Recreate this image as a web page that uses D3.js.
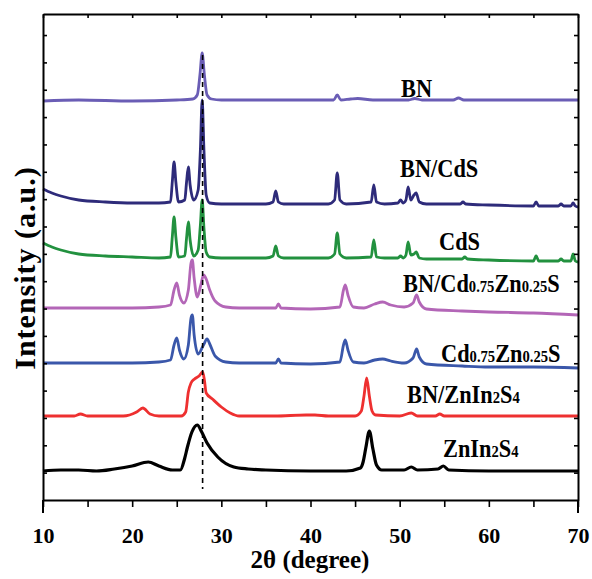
<!DOCTYPE html>
<html><head><meta charset="utf-8">
<script src="https://cdn.jsdelivr.net/npm/d3@7"></script>
<style>body{margin:0;background:#fff}text{font-family:"Liberation Serif","Times New Roman",serif;font-weight:bold}</style>
</head><body><svg id="c" width="592" height="579"></svg>
<script>
// x ticks (2θ, degree)
const xTicks = [10,15,20,25,30,35,40,45,50,55,60,65,70];
const xTickLabels = {10:"10",20:"20",30:"30",40:"40",50:"50",60:"60",70:"70"};
const yTicks = [27.35,54.7,82.05,109.4,136.75,164.1,191.45,218.8,246.15,273.5,300.85,328.2,355.55,382.9,410.25,437.6,464.95];
const refLine = 27.9;

// series values [2θ, intensity (a.u., offset stacked)]
const BN = [[10,399],[14,400],[20,399],[25,400],[26.8,401],[27.3,405],[27.6,425],[27.85,447],[28.1,425],[28.4,405],[28.9,401],[30,400],[35,400],[40,400],[42.6,400],[43,405],[43.4,400],[44.5,401],[45.3,401.5],[47,400],[51,400],[51.7,401.5],[52.5,400],[56,400],[56.6,402],[57.2,400],[60,400],[65,400],[70,400]];
const BN_CdS = [[10,311],[11,307],[12,304],[14,300],[17,298],[20,297],[23,297],[24.3,298],[24.5,318],[24.7,338],[24.9,318],[25.2,298],[25.9,300],[26.1,318],[26.3,333],[26.5,315],[26.9,300],[27.4,310],[27.65,350],[27.85,400],[28.05,350],[28.3,305],[28.7,297],[30,296],[35,296],[35.8,298],[36.1,309],[36.4,298],[37,296],[42,296],[42.7,300],[43.0,327],[43.3,300],[44,296],[46.8,298],[47.1,315],[47.4,298],[48.3,296],[49.8,297],[50.1,300],[50.4,297],[50.7,300],[50.95,313],[51.25,300],[51.6,305],[51.85,307],[52.2,298],[53,296],[56.8,296],[57.1,298],[57.4,296],[60,295],[65,294],[65.3,298],[65.6,294],[67.8,294],[68.1,296],[68.4,294],[69.2,294],[69.45,297],[69.7,294],[70,293]];
const CdS = [[10,257],[11,253],[12,250],[14,246],[17,244],[20,243],[23,242],[24.3,243],[24.5,263],[24.7,283],[24.9,263],[25.2,243],[25.9,244],[26.1,262],[26.3,278],[26.5,260],[26.9,244],[27.4,250],[27.65,275],[27.85,300],[28.05,272],[28.3,248],[28.7,243],[30,242],[35,242],[35.8,244],[36.1,254],[36.4,244],[37,242],[42,242],[42.7,246],[43.0,267],[43.3,246],[44,242],[46.8,243],[47.1,260],[47.4,243],[48.3,242],[49.8,242],[50.1,244],[50.4,242],[50.7,245],[50.95,258],[51.25,245],[51.6,246],[51.85,248],[52.2,242],[53,241],[57,241],[57.3,243],[57.6,241],[60,240],[65,239],[65.3,244],[65.6,239],[67.8,239],[68.1,241],[68.4,239],[69.2,239],[69.45,246],[69.7,239],[70,238]];
const BN_CdZnS = [[10,192],[15,192],[20,192],[23,193],[24.3,195],[24.7,210],[25.0,217],[25.3,205],[25.8,197],[26.3,210],[26.6,237],[26.75,240],[26.95,222],[27.3,203],[27.7,215],[28.0,225],[28.3,221],[28.7,210],[29.3,199],[30.5,193],[32,192],[36.1,192],[36.4,196],[36.7,192],[40,191],[43.3,193],[43.7,210],[43.9,215],[44.2,205],[44.8,193],[46,192],[47.2,196],[48.1,198],[49,195],[50.5,193],[51.5,197],[51.9,205],[52.2,198],[53,191],[57,189],[60,188],[65,187],[70,185]];
const CdZnS = [[10,137],[15,137],[20,137],[23,138],[24.3,140],[24.7,155],[25.0,162],[25.3,150],[25.8,141],[26.3,155],[26.6,182],[26.75,185],[26.95,165],[27.4,146],[28.0,155],[28.4,161],[28.7,156],[29.3,144],[30.5,138],[32,137],[36.1,137],[36.4,141],[36.7,137],[40,136],[43.3,138],[43.7,155],[43.9,160],[44.2,150],[44.8,138],[46,137],[47.2,140],[48.1,141],[49,139],[50.5,137],[51.5,142],[51.9,151],[52.2,143],[53,136],[57,134],[60,133],[65,133],[70,132]];
const BN_ZnIn2S4 = [[10,84],[13.5,84],[14.2,86],[15,84],[19,84],[20.5,88],[21.2,92],[22,86],[23,84],[25.5,84],[26.0,88],[26.3,108],[26.6,117],[27.0,121],[27.5,124],[27.9,128],[28.1,120],[28.3,107],[29,101],[30,93],[31,87],[32,84],[36,84],[39.5,85],[40.5,85],[42,84],[45,84],[45.7,89],[46.0,104],[46.3,122],[46.6,104],[46.9,89],[47.3,85],[50,84],[51.3,87],[52,84],[54,84],[54.5,86],[55,84],[60,84],[65,84],[70,84]];
const ZnIn2S4 = [[10,29],[12,30],[14,30],[16,29],[18,31],[20,34],[21.8,38],[23,34],[24.5,30],[25.4,30],[25.9,42],[26.2,53],[26.7,68],[27.3,75],[27.8,68],[28.4,57],[29.6,43],[31.4,33],[33,31],[35,30],[40,29],[44,29],[45.6,32],[45.9,38],[46.2,52],[46.6,69],[47.0,51],[47.4,35],[48,30],[50.5,30],[51.3,33],[52,30],[54.3,31],[54.9,34],[55.5,30],[60,29],[65,29],[70,29]];

const series = [
  {pts: BN, color:"#6a5db5", w:2.8},
  {pts: BN_CdS, color:"#2e2b7a", w:2.8},
  {pts: CdS, color:"#22913f", w:2.8},
  {pts: BN_CdZnS, color:"#b366b7", w:2.8},
  {pts: CdZnS, color:"#3a57aa", w:2.8},
  {pts: BN_ZnIn2S4, color:"#ee3030", w:2.8},
  {pts: ZnIn2S4, color:"#000000", w:3.2}
];
const labels = [
  {parts:[["BN",0]], x:401, y:97},
  {parts:[["BN/CdS",0]], x:400, y:177},
  {parts:[["CdS",0]], x:439, y:250},
  {parts:[["BN/Cd",0],["0.75",1],["Zn",0],["0.25",1],["S",0]], x:403, y:292},
  {parts:[["Cd",0],["0.75",1],["Zn",0],["0.25",1],["S",0]], x:441, y:362},
  {parts:[["BN/ZnIn",0],["2",1],["S",0],["4",1]], x:407, y:403},
  {parts:[["ZnIn",0],["2",1],["S",0],["4",1]], x:443, y:457}
];

const L=43, R=578, T=14, B=500;
const svg = d3.select("#c");
const x = d3.scaleLinear().domain([10,70]).range([L,R]);
const y = d3.scaleLinear().domain([0,486]).range([B,T]);

const line = d3.line().x(d=>x(d[0])).y(d=>y(d[1])).curve(d3.curveMonotoneX);
series.forEach(s=>{
  svg.append("path").datum(s.pts).attr("d",line).attr("fill","none")
    .attr("stroke",s.color).attr("stroke-width",s.w).attr("stroke-linejoin","round");
});

// reference dashed line
svg.append("line").attr("x1",x(refLine)).attr("x2",x(refLine)).attr("y1",y(445)).attr("y2",y(11))
  .attr("stroke","#000").attr("stroke-width",1.6).attr("stroke-dasharray","5,4");

// axes
const gB = svg.append("g").attr("transform",`translate(0,${B})`)
  .call(d3.axisBottom(x).tickValues(xTicks).tickSize(7).tickSizeOuter(0).tickPadding(20).tickFormat(d=>xTickLabels[d]||""));
const gT = svg.append("g").attr("transform",`translate(0,${T})`)
  .call(d3.axisTop(x).tickValues(xTicks).tickSize(-4).tickSizeOuter(0).tickFormat(""));
const gL = svg.append("g").attr("transform",`translate(${L},0)`)
  .call(d3.axisLeft(y).tickValues(yTicks).tickSize(-4).tickSizeOuter(0).tickFormat(""));
const gR = svg.append("g").attr("transform",`translate(${R},0)`)
  .call(d3.axisRight(y).tickValues(yTicks).tickSize(-4).tickSizeOuter(0).tickFormat(""));
[gB,gT,gL,gR].forEach(g=>{
  g.select(".domain").attr("stroke","#000").attr("stroke-width",2);
  g.selectAll(".tick line").attr("stroke","#000").attr("stroke-width",1.6);
});
gB.selectAll(".tick text").attr("font-size",22).attr("fill","#000")
  .style("font-family",'"Liberation Serif",serif').style("font-weight","bold");
// spine extensions below bottom axis
[L,R].forEach(xx=>svg.append("line").attr("x1",xx).attr("x2",xx).attr("y1",B).attr("y2",B+13).attr("stroke","#000").attr("stroke-width",2));

// axis titles
svg.append("text").attr("x",310).attr("y",568).attr("text-anchor","middle").attr("font-size",25).text("2θ (degree)");
svg.append("text").attr("transform","translate(35,268) rotate(-90)").attr("text-anchor","middle")
  .attr("font-size",30).attr("letter-spacing",1).text("Intensity (a.u.)");

// series labels
labels.forEach(l=>{
  const t = svg.append("text").attr("transform",`translate(${l.x},${l.y}) scale(0.86,1)`).attr("font-size",26);
  l.parts.forEach(p=>{
    t.append("tspan").attr("font-size",p[1]?17:26).text(p[0]);
  });
});
</script></body></html>
